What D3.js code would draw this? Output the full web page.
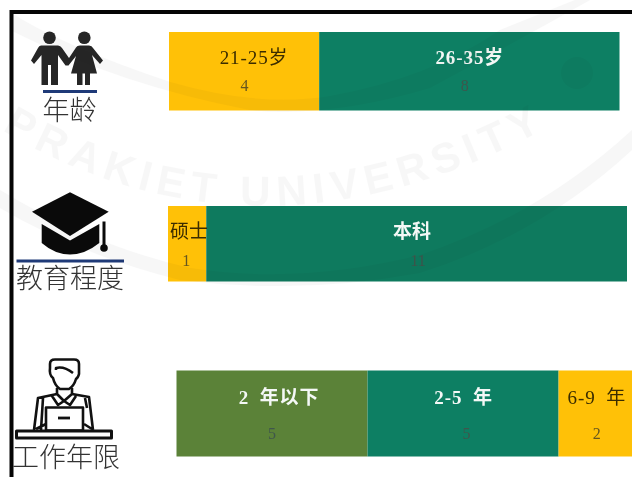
<!DOCTYPE html>
<html lang="zh">
<head>
<meta charset="utf-8">
<script src="https://cdn.jsdelivr.net/npm/d3@7/dist/d3.min.js"></script>
<style>
  html, body { margin: 0; padding: 0; background: #fff; overflow: hidden; }
  svg { display: block; }
  text { font-family: "Liberation Serif", "Noto Sans CJK SC", serif; }
</style>
</head>
<body>
<svg id="chart" width="632" height="477"></svg>
<script>
// Respondent profile: one stacked bar per attribute.
const groupNames = ["年龄", "教育程度", "工作年限"];
const ageLabels = ["21-25岁", "26-35岁"];
const ageCounts = [4, 8];
const eduLabels = ["硕士", "本科"];
const eduCounts = [1, 11];
const jobLabels = ["2 年以下", "2-5 年", "6-9 年"];
const jobCounts = [5, 5, 2];

const YELLOW = "#ffc107", GREEN = "#0d7f63", GREEN2 = "#0e7a5e", OLIVE = "#5b8238";

// Row geometry and per-label nudges, kept apart from the counts.
const rows = [
  { labels: ageLabels, counts: ageCounts, colors: [YELLOW, GREEN], x: [169, 619.5], y: [32, 110.5],
    catY: 64, valY: 91, spacing: 0.9, words: 0, catDx: [10, 0.5], valDx: [0.5, -4.5] },
  { labels: eduLabels, counts: eduCounts, colors: [YELLOW, GREEN2], x: [168, 627], y: [206, 281.5],
    catY: 238, valY: 266, spacing: 0, words: 0, catDx: [2, -4.5], valDx: [-1, 1.5] },
  { labels: jobLabels, counts: jobCounts, colors: [OLIVE, GREEN, YELLOW], x: [176.5, 635], y: [370.5, 456.5],
    catY: 404, valY: 439, spacing: 0.9, words: 5, catDx: [7, 0.5], valDx: [0, 3.5] }
];

const svg = d3.select("#chart");

rows.forEach(row => {
  const total = d3.sum(row.counts);
  const xScale = d3.scaleLinear().domain([0, total]).range(row.x);
  const stacked = row.counts.map((c, i) => ({
    label: row.labels[i], count: c, color: row.colors[i], i,
    start: d3.sum(row.counts.slice(0, i)),
    end: d3.sum(row.counts.slice(0, i + 1))
  }));
  const g = svg.append("g");
  g.selectAll("rect").data(stacked).join("rect")
    .attr("x", d => xScale(d.start))
    .attr("width", d => xScale(d.end) - xScale(d.start))
    .attr("y", row.y[0])
    .attr("height", row.y[1] - row.y[0])
    .attr("fill", d => d.color);
  g.selectAll("text.cat").data(stacked).join("text")
    .attr("class", "cat")
    .attr("x", d => (xScale(d.start) + xScale(d.end)) / 2 + (row.catDx[d.i] || 0))
    .attr("y", row.catY)
    .attr("text-anchor", "middle")
    .attr("font-size", 19)
    .attr("letter-spacing", row.spacing)
    .attr("word-spacing", row.words)
    .attr("font-weight", d => d.color === YELLOW ? 400 : 700)
    .attr("fill", d => d.color === YELLOW ? "#3a2c00" : "#f4f8f6")
    .text(d => d.label);
  g.selectAll("text.val").data(stacked).join("text")
    .attr("class", "val")
    .attr("x", d => (xScale(d.start) + xScale(d.end)) / 2 + (row.valDx[d.i] || 0))
    .attr("y", row.valY)
    .attr("text-anchor", "middle")
    .attr("font-size", 16)
    .attr("fill", d => d.color === YELLOW ? "#66561f" : "#3f564c")
    .text(d => d.count);
});

// Group captions with the navy rules above them.
const captionX = [69.5, 70, 66];
const captionY = [120, 288, 467];
svg.selectAll("text.caption").data(groupNames).join("text")
  .attr("class", "caption")
  .attr("x", (d, i) => captionX[i])
  .attr("y", (d, i) => captionY[i])
  .attr("text-anchor", "middle")
  .attr("font-size", 27)
  .attr("font-weight", 300)
  .attr("fill", "#333")
  .text(d => d);
const navyRules = [[43, 97, 91.5], [16.5, 124, 261]];
svg.selectAll("line.rule").data(navyRules).join("line")
  .attr("class", "rule")
  .attr("x1", d => d[0]).attr("x2", d => d[1])
  .attr("y1", d => d[2]).attr("y2", d => d[2])
  .attr("stroke", "#1f3a78").attr("stroke-width", 3);

// Couple icon
const people = svg.append("g").attr("fill", "#262626");
people.append("circle").attr("cx", 49.5).attr("cy", 37.7).attr("r", 6.3);
people.append("circle").attr("cx", 84.3).attr("cy", 37.7).attr("r", 6.3);
people.append("path").attr("d",
  "M41,45.500 H58 Q60.500,45.500 62,48 L69,58 L76,47.500 Q77,45.500 80,45.500 H89 Q92,45.500 93,48 L103,60.500 L100,64 L92,55 L97,73.500 H90 V85 H85 V73.500 H82.500 V85 H77 V73.500 H71 L76,56 L68.500,65.500 L65.500,65.500 L58,55 V85 H51 V65 H48 V85 H41.500 V55 L34,64 L31,60.500 L38,48 Q39,45.500 41,45.500 Z");

// Mortarboard icon
const cap = svg.append("g").attr("fill", "#0a0a0a");
cap.append("path").attr("d", "M70,192.300 L108.700,211.700 L70,236 L32,211.700 Z");
cap.append("path").attr("d", "M41.700,224 L70,240.500 L99.300,224 V243 Q85,254.500 70,254.500 Q55,254.500 41.700,243 Z");
cap.append("rect").attr("x", 102.500).attr("y", 221.500).attr("width", 3).attr("height", 27);
cap.append("circle").attr("cx", 104).attr("cy", 248).attr("r", 3.8);

// Office worker icon
const worker = svg.append("g").attr("fill", "none").attr("stroke", "#111").attr("stroke-width", 2.6).attr("stroke-linejoin", "round");
worker.append("path").attr("d", "M53,378 Q49,375 50,368 V364 Q50,359.500 55,359.500 H74 Q79,359.500 79,364 V374 Q78,378 76,379 Q74,386 69,389 H60 Q55,386 53,378 Z");
worker.append("path").attr("d", "M56,370 L56,368 Q64,366 73,373");
worker.append("path").attr("d", "M57,388 V394 L38,398 L34,430 M72,388 V394 L89,397 L93,430 M57,394 L64,401 L72,394 M52,396 L58,405 L64,401 L70,405 L76,396 M43,398 L41,430 M85,398 L87,408 M36,429 L46,424 M84,424 L92,429");
worker.append("rect").attr("x", 46).attr("y", 407.500).attr("width", 37).attr("height", 23).attr("fill", "#fff");
worker.append("line").attr("x1", 58).attr("x2", 70).attr("y1", 418).attr("y2", 418).attr("stroke-width", 2.8);
worker.append("rect").attr("x", 16.500).attr("y", 431).attr("width", 95).attr("height", 7).attr("fill", "#fff").attr("stroke-width", 3);

// Left and top frame strokes
svg.append("path")
  .attr("d", "M632,12 H11.500 V477")
  .attr("fill", "none").attr("stroke", "#050505").attr("stroke-width", 4);

// Faint university seal laid over everything
const seal = svg.append("g").style("mix-blend-mode", "multiply").attr("opacity", 0.03);
const sealBands = [
  "M10,12 Q60,45 170,82 Q260,108 330,96 Q430,78 500,30 L575,0 L590,0 Q510,45 430,88 Q330,118 250,110 Q120,85 10,30 Z",
  "M0,190 Q90,245 190,268 Q300,285 420,255 Q540,215 632,130 V150 Q540,235 420,273 Q300,295 180,280 Q80,255 0,208 Z"
];
seal.selectAll("path.band").data(sealBands).join("path")
  .attr("class", "band").attr("d", d => d).attr("fill", "#000");
seal.append("circle").attr("cx", 577).attr("cy", 73).attr("r", 16).attr("fill", "#000");
const defs = svg.append("defs");
defs.append("path").attr("id", "sealArc").attr("d", "M2,130 Q270,290 575,112");
seal.append("text")
  .attr("font-size", 42).attr("font-weight", 700).attr("letter-spacing", 7).attr("fill", "#000")
  .style("font-family", "'Liberation Sans', sans-serif")
  .append("textPath").attr("href", "#sealArc").text("PRAKIET UNIVERSITY");
</script>
</body>
</html>
